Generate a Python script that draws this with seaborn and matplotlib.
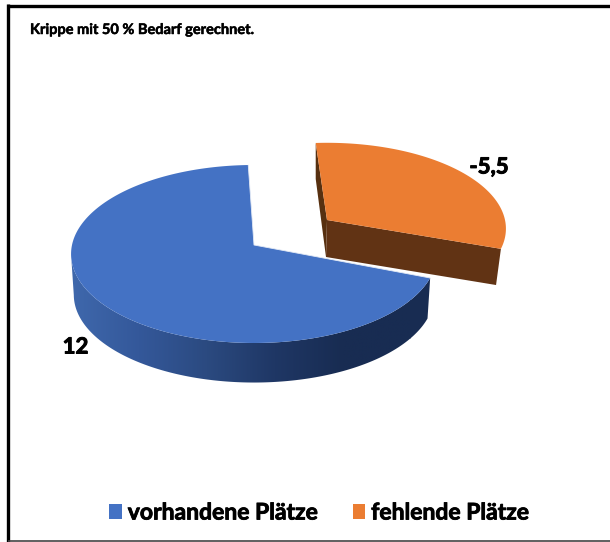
import numpy as np
import matplotlib
matplotlib.use("Agg")
import matplotlib.pyplot as plt
import matplotlib.patheffects as pe
import seaborn as sns
from matplotlib.colors import LinearSegmentedColormap
from matplotlib.patches import Patch, Polygon

categories = ["vorhandene Plätze", "fehlende Plätze"]
values = [12, -5.5]
value_labels = ["12", "-5,5"]
title_text = "Krippe mit 50 % Bedarf gerechnet."

BLUE, ORANGE = "#4472C4", "#EB7D32"
sns.set_theme(style="white")
sns.set_palette([BLUE, ORANGE])
plt.rcParams["font.family"] = ["Lato", "DejaVu Sans"]

fig = plt.figure(figsize=(6.1, 5.42), dpi=100)
ax = fig.add_axes([0, 0, 1, 1])
ax.set_xlim(0, 610)
ax.set_ylim(542, 0)
ax.axis("off")

# slice sweeps come from the values
sizes = np.abs(values)
sweeps = 360 * sizes / sizes.sum()
K = 0.101


def project(theta, cx, cy, a, b, depth=0.0, shrink=1.0):
    t = np.radians(theta)
    u, v = np.cos(t), np.sin(t)
    w = 1 + K * v
    return cx + shrink * a * u / w, cy - shrink * b * v / w + depth


def wedge(start, sweep, n=240):
    return np.linspace(start, start + sweep, n)


# --- orange slice (exploded, clockwise from the top) ---
oc = dict(cx=327, cy=220, a=178, b=85)
o_th = wedge(94, -sweeps[1])
ox, oy = project(o_th, **oc)
D_O, S_O = 37, 0.972
oxb, oyb = project(o_th, depth=D_O, shrink=S_O, **oc)

ax.add_patch(Polygon([(ox[0], oy[0]), (ox[0], oy[0] + 36),
                      (oc["cx"] - 1, oc["cy"] + D_O), (oc["cx"], oc["cy"])],
                     closed=True, fc="#573010", ec="none", zorder=2))
ax.add_patch(Polygon([(oc["cx"], oc["cy"]), (ox[-1], oy[-1]),
                      (oxb[-1], oyb[-1]), (oc["cx"] - 1, oc["cy"] + D_O)],
                     closed=True, fc="#613314", ec="none", zorder=2))
ax.add_patch(Polygon(np.r_[[[oc["cx"], oc["cy"]]], np.c_[ox, oy]], closed=True,
                     fc=ORANGE, ec="none", zorder=3))

# --- blue slice ---
bc = dict(cx=254, cy=245, a=182, b=88.1)
b_th = wedge(92, sweeps[0], 400)
bx, by = project(b_th, **bc)
D_B, S_B = 41, 0.985
bxb, byb = project(b_th, depth=D_B, shrink=S_B, **bc)

# gradient outer wall: a horizontal gradient clipped to the wall's outline
wall_cmap = LinearSegmentedColormap.from_list(
    "wall", ["#3F68AC", "#34589A", "#2B4A80", "#1F3765", "#182C52", "#182C52"])
mask = b_th >= 186
wall_poly = Polygon(np.r_[np.c_[bx[mask], by[mask]], np.c_[bxb[mask], byb[mask]][::-1]],
                    closed=True, fc="none", ec="none", transform=ax.transData)
ax.add_patch(wall_poly)
grad = np.linspace(0, 1, 256)[None, :]
im = ax.imshow(grad, cmap=wall_cmap, extent=(71, 411, 400, 240), aspect="auto", zorder=4)
edge = ax.imshow(np.ones((1, 2)), cmap=LinearSegmentedColormap.from_list("e", ["#182C52", "#182C52"]),
                 extent=(410, 440, 400, 240), aspect="auto", zorder=4)
im.set_clip_path(wall_poly)
edge.set_clip_path(wall_poly)
ax.set_xlim(0, 610)
ax.set_ylim(542, 0)

ax.add_patch(Polygon(np.r_[[[bc["cx"], bc["cy"]]], np.c_[bx, by]], closed=True,
                     fc=BLUE, ec="none", zorder=5))
# thin pale highlight on the cut edges
ax.plot([bx[0], bc["cx"], bx[-1]], [by[0], bc["cy"], by[-1]], color="#E3EAF6", lw=0.6, zorder=6)


def fatten(width):
    return [pe.withStroke(linewidth=width, foreground="black")]


# labels
ax.text(489, 167, value_labels[1], fontsize=16, fontweight="bold", color="black",
        ha="center", va="center", zorder=6, path_effects=fatten(0.7))
ax.text(75.5, 347, value_labels[0], fontsize=16, fontweight="bold", color="black",
        ha="center", va="center", zorder=6, path_effects=fatten(0.7))
ax.text(30, 30, title_text, fontsize=10.5, fontweight="bold", color="black",
        ha="left", va="center", path_effects=fatten(0.35))

# frame
ax.plot([8.3, 8.3], [4, 542], color="black", lw=2.4, solid_capstyle="butt", zorder=1)
ax.plot([7, 610], [5.6, 5.6], color="black", lw=2.4, solid_capstyle="butt", zorder=1)
ax.plot([8, 610], [541, 541], color="#444444", lw=1.2, solid_capstyle="butt", zorder=1)

# legend
handles = [Patch(fc=BLUE, ec="none"), Patch(fc=ORANGE, ec="none")]
leg = ax.legend(handles, categories, loc="center", bbox_to_anchor=(319 / 610, 1 - 513 / 542),
                ncol=2, frameon=False, prop={"weight": "bold", "size": 16.5},
                handlelength=0.55, handleheight=0.65, handletextpad=0.26, columnspacing=1.53,
                borderpad=0, labelcolor="black")
for t in leg.get_texts():
    t.set_path_effects(fatten(0.6))

fig.savefig("out.png", dpi=100)
